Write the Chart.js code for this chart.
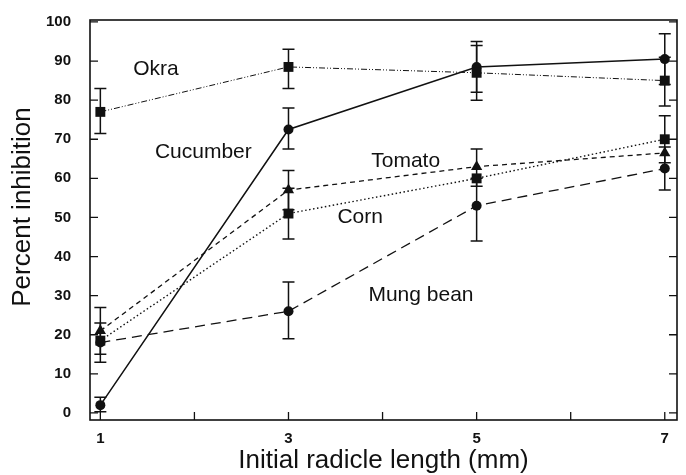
<!DOCTYPE html>
<html>
<head>
<meta charset="utf-8">
<script src="https://cdn.jsdelivr.net/npm/chart.js@4/dist/chart.umd.min.js"></script>
<style>
  html, body { margin: 0; padding: 0; background: #fff; }
  #wrap { width: 686px; height: 475px; }
</style>
</head>
<body>
<div id="wrap"><canvas id="chart" width="686" height="475"></canvas></div>
<script>
// x positions (initial radicle length, mm)
const lengths = [1, 3, 5, 7];
const xTickLabels = ['1', '', '3', '', '5', '', '7'];

// percent inhibition per crop
const okra = [77, 88.5, 87, 85];
const cucumber = [2, 72.5, 88.5, 90.5];
const tomato = [21, 57, 63, 66.5];
const corn = [18.5, 51, 60, 70];
const mungBean = [18, 26, 53, 62.5];

// error bars [low, high], null where no bar is visible
const okraErr = [[71.5, 83], [83, 93], [80, 94], [78.5, 91]];
const cucumberErr = [[0.3, 4], [67.5, 78], [82, 95], [84, 97]];
const tomatoErr = [[15, 27], [52, 62], [58, 67.5], null];
const cornErr = [null, [44.5, 57.5], null, [64, 76]];
const mungBeanErr = [[13, 23], [19, 33.5], [44, 60], [57, 68]];

// in-plot series names, placed in data units
const seriesNames = ['Okra', 'Cucumber', 'Tomato', 'Corn', 'Mung bean'];
const nameX = [1.35, 1.58, 3.88, 3.52, 3.85];
const nameY = [88, 66.8, 64.5, 50, 30];

const FONT = '"Liberation Sans", Arial, Helvetica, sans-serif';
const INK = '#111';

const toPoints = ys => ys.map((y, i) => ({ x: lengths[i], y: y }));

function makeSet(label, ys, errs, style, dash, width) {
    return {
        label: label,
        data: toPoints(ys),
        errors: errs,
        borderColor: INK,
        backgroundColor: INK,
        borderWidth: width,
        borderDash: dash,
        pointStyle: style,
        pointRadius: style === 'rect' ? 7 : (style === 'triangle' ? 6.5 : 5),
        pointBorderWidth: 0,
        tension: 0,
        fill: false,
        clip: false
    };
}

const datasets = [
    makeSet('Okra', okra, okraErr, 'rect', [6, 2, 1, 2, 1, 2], 1),
    makeSet('Cucumber', cucumber, cucumberErr, 'circle', [], 1.5),
    makeSet('Tomato', tomato, tomatoErr, 'triangle', [5, 4], 1.3),
    makeSet('Corn', corn, cornErr, 'rect', [1.5, 2.5], 1.4),
    makeSet('Mung bean', mungBean, mungBeanErr, 'circle', [10, 6], 1.3)
];

// error bars, frame, inward ticks, labels and axis titles
const decor = {
    id: 'decor',
    beforeDatasetsDraw(chart) {
        const ctx = chart.ctx;
        const xs = chart.scales.x, ys = chart.scales.y;
        ctx.save();
        ctx.strokeStyle = INK;
        ctx.lineWidth = 1.5;
        ctx.setLineDash([]);
        chart.data.datasets.forEach(ds => {
            ds.errors.forEach((e, i) => {
                if (!e) return;
                const px = xs.getPixelForValue(lengths[i]);
                const lo = ys.getPixelForValue(e[0]);
                const hi = ys.getPixelForValue(e[1]);
                ctx.beginPath();
                ctx.moveTo(px, lo); ctx.lineTo(px, hi);
                ctx.moveTo(px - 6, lo); ctx.lineTo(px + 6, lo);
                ctx.moveTo(px - 6, hi); ctx.lineTo(px + 6, hi);
                ctx.stroke();
            });
        });
        ctx.restore();
    },
    afterDraw(chart) {
        const ctx = chart.ctx;
        const a = chart.chartArea;
        const xs = chart.scales.x, ys = chart.scales.y;
        ctx.save();
        ctx.strokeStyle = INK;
        ctx.lineWidth = 1.6;
        ctx.setLineDash([]);
        ctx.strokeRect(a.left, a.top, a.right - a.left, a.bottom - a.top);

        ctx.lineWidth = 1.3;
        ctx.beginPath();
        ys.ticks.forEach(t => {
            const py = ys.getPixelForValue(t.value);
            ctx.moveTo(a.left, py); ctx.lineTo(a.left + 8, py);
            ctx.moveTo(a.right, py); ctx.lineTo(a.right - 8, py);
        });
        xs.ticks.forEach(t => {
            const px = xs.getPixelForValue(t.value);
            ctx.moveTo(px, a.bottom); ctx.lineTo(px, a.bottom - 8);
        });
        ctx.stroke();

        ctx.fillStyle = INK;
        ctx.font = '21px ' + FONT;
        ctx.textAlign = 'left';
        ctx.textBaseline = 'middle';
        seriesNames.forEach((n, i) => {
            ctx.fillText(n, xs.getPixelForValue(nameX[i]), ys.getPixelForValue(nameY[i]));
        });

        ctx.font = '26px ' + FONT;
        ctx.textAlign = 'center';
        ctx.fillText('Initial radicle length (mm)', (a.left + a.right) / 2, 461);
        ctx.translate(23, 207);
        ctx.rotate(-Math.PI / 2);
        ctx.fillText('Percent inhibition', 0, 0);
        ctx.restore();
    }
};

new Chart(document.getElementById('chart'), {
    type: 'line',
    data: { datasets: datasets },
    options: {
        responsive: false,
        animation: false,
        layout: { padding: { top: 20, right: 9, left: 0, bottom: 0 } },
        plugins: { legend: { display: false }, tooltip: { enabled: false } },
        scales: {
            x: {
                type: 'linear',
                min: 0.89,
                max: 7.13,
                afterBuildTicks: s => { s.ticks = [1, 2, 3, 4, 5, 6, 7].map(v => ({ value: v })); },
                afterFit: s => { s.height = 55; s.paddingLeft = 0; s.paddingRight = 0; },
                grid: { display: false, drawTicks: false },
                border: { display: false },
                ticks: {
                    padding: 10,
                    color: INK,
                    font: { family: FONT, size: 15, weight: 'bold' },
                    maxRotation: 0,
                    autoSkip: false,
                    callback: (v, i) => xTickLabels[i]
                }
            },
            y: {
                min: -1.8,
                max: 100.5,
                afterBuildTicks: s => { s.ticks = [0, 10, 20, 30, 40, 50, 60, 70, 80, 90, 100].map(v => ({ value: v })); },
                afterFit: s => { s.width = 90; s.paddingTop = 0; s.paddingBottom = 0; },
                grid: { display: false, drawTicks: false },
                border: { display: false },
                ticks: {
                    padding: 19,
                    color: INK,
                    font: { family: FONT, size: 15, weight: 'bold' },
                    autoSkip: false
                }
            }
        }
    },
    plugins: [decor]
});
</script>
</body>
</html>
